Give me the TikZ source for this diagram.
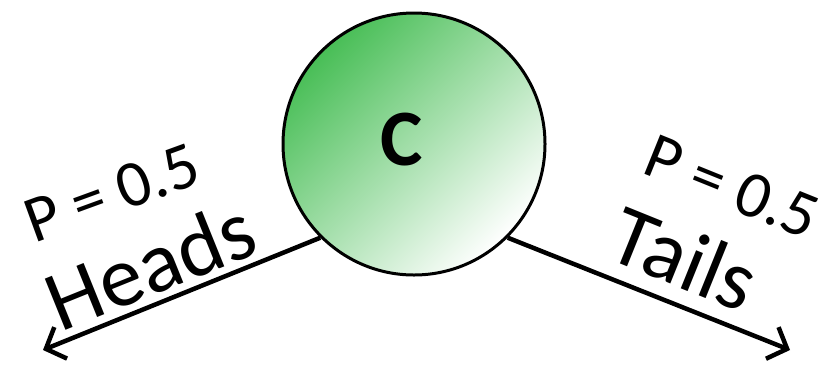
\documentclass[tikz,border=0pt]{standalone}
\usepackage{fontspec}
\setmainfont{Carlito}
\usepackage{tikz}
\usetikzlibrary{positioning}
\usetikzlibrary{arrows.meta}
\definecolor{coingreen}{RGB}{72,190,86}
\tikzset{coin/.style = {circle, draw, line width = 3, minimum size = 262, inner sep = 0,
    top color = coingreen, middle color = coingreen!40, bottom color = white, shading angle = 45}}
\tikzset{branch/.style = {line width = 4.5, -{Straight Barb[length = 16, width = 34, line width = 4.5]}}}
\tikzset{prob/.style = {inner sep = 0, font = \fontsize{66}{70}\selectfont}}
\tikzset{side/.style = {inner sep = 0, font = \fontsize{86}{90}\selectfont}}

\begin{document}
\begin{tikzpicture}[x = 1pt, y = -1pt]
    \useasboundingbox (0,0) rectangle (827,368);
    \node[coin] (c) at (414,144) {};
    \node[inner sep = 0, font = \fontsize{80}{80}\selectfont\bfseries] (cl) at (402,140) {C};
    \coordinate (h) at (43,350);
    \coordinate (t) at (790,350);
    \draw[branch] (c.225) -- (h);
    \draw[branch] (c.-45) -- (t);
    % labels along the branches
    \node[prob, rotate = 20] (ph) at (112,193) {P = 0.5};
    \node[side, rotate = 22] (hd) at (150,265) {Heads};
    \node[prob, rotate = -22] (pt) at (732,187) {P = 0.5};
    \node[side, rotate = -22] (tl) at (685,258) {Tails};
\end{tikzpicture}
\end{document}
